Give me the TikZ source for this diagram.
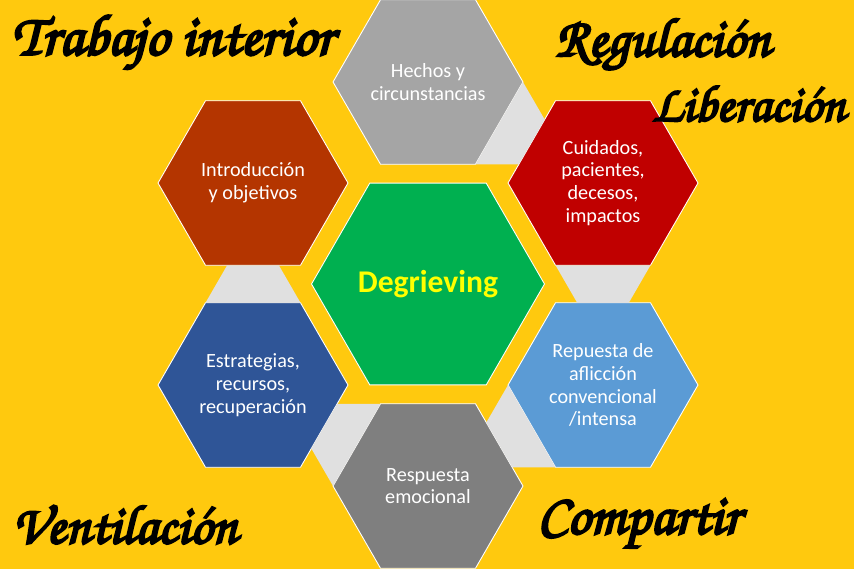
\documentclass[tikz,border=0pt]{standalone}
\usepackage[T1,TU]{fontenc}
\usepackage{fontspec}
\setmainfont{Carlito}
\usepackage{tikz}
\usetikzlibrary{shapes.geometric}
\usetikzlibrary{calc}
\definecolor{bgyellow}{HTML}{FFC90E}
\definecolor{factgray}{HTML}{A5A5A5}
\definecolor{carered}{HTML}{C00000}
\definecolor{griefblue}{HTML}{5B9BD5}
\definecolor{emotiongray}{HTML}{7F7F7F}
\definecolor{toolsblue}{HTML}{2F5597}
\definecolor{introbrown}{HTML}{B43500}
\definecolor{hubgreen}{HTML}{00B050}
\definecolor{hubtext}{HTML}{FFFF00}
\definecolor{linkgray}{HTML}{E0E0E0}
\newcommand{\brushword}[2]{\resizebox{#1}{!}{\fontencoding{T1}\fontfamily{pzc}\fontseries{mb}\fontshape{it}\selectfont\special{pdf:literal direct 2 Tr 0.4 w 0 G}#2\special{pdf:literal direct 0 Tr}}}

\begin{document}
\begin{tikzpicture}[x=0.02cm, y=-0.02cm,
  hexcell/.style={regular polygon, regular polygon sides=6, minimum size=3.8cm,
    inner sep=0pt, outer sep=0pt, draw=white, line width=0.5pt, text=white,
    align=center, font=\fontsize{11.5}{13}\selectfont},
  hexlink/.style={fill=linkgray},
  cornerword/.style={anchor=west, inner sep=0pt}]
  \fill[bgyellow] (0,0) rectangle (854,569);
  \useasboundingbox (0,0) rectangle (854,569);
  % hexagons
  \node[hexcell, minimum size=4.66cm, fill=hubgreen, text=hubtext,
    font=\bfseries\fontsize{18}{20}\selectfont] (hub) at (428,284) {Degrieving};
  \node[hexcell, fill=factgray] (facts) at (428,82) {Hechos y\\circunstancias};
  \node[hexcell, fill=carered] (care) at (603,183) {Cuidados,\\pacientes,\\decesos,\\impactos};
  \node[hexcell, fill=griefblue] (grief) at (603,385) {Repuesta de\\aflicción\\convencional\\/intensa};
  \node[hexcell, fill=emotiongray] (emotion) at (428,486) {Respuesta\\emocional};
  \node[hexcell, fill=toolsblue] (tools) at (253,385) {Estrategias,\\recursos,\\recuperación};
  \node[hexcell, fill=introbrown] (intro) at (253,183) {Introducción\\y objetivos};
  % links
  \fill[hexlink] (facts.corner 6) -- (facts.corner 5) -- ($(care.corner 3)!0.228!(care.corner 2)$) -- ($(care.corner 2)!0.228!(care.corner 3)$) -- cycle;
  \fill[hexlink] (care.corner 5) -- (care.corner 4) -- ($(grief.corner 2)!0.228!(grief.corner 1)$) -- ($(grief.corner 1)!0.228!(grief.corner 2)$) -- cycle;
  \fill[hexlink] (grief.corner 4) -- (grief.corner 3) -- ($(emotion.corner 1)!0.228!(emotion.corner 6)$) -- ($(emotion.corner 6)!0.228!(emotion.corner 1)$) -- cycle;
  \fill[hexlink] (emotion.corner 3) -- (emotion.corner 2) -- ($(tools.corner 6)!0.228!(tools.corner 5)$) -- ($(tools.corner 5)!0.228!(tools.corner 6)$) -- cycle;
  \fill[hexlink] (tools.corner 2) -- (tools.corner 1) -- ($(intro.corner 5)!0.228!(intro.corner 4)$) -- ($(intro.corner 4)!0.228!(intro.corner 5)$) -- cycle;
  % corner words
  \node[cornerword] (inner) at (12,43) {\brushword{6.42cm}{Trabajo interior}};
  \node[cornerword] (regul) at (555,45) {\brushword{4.3cm}{Regulación}};
  \node[cornerword] (liber) at (652,103) {\brushword{3.86cm}{Liberación}};
  \node[cornerword] (venti) at (12,524) {\brushword{4.5cm}{Ventilación}};
  \node[cornerword] (share) at (537,525) {\brushword{4.06cm}{Compartir}};
\end{tikzpicture}
\end{document}
